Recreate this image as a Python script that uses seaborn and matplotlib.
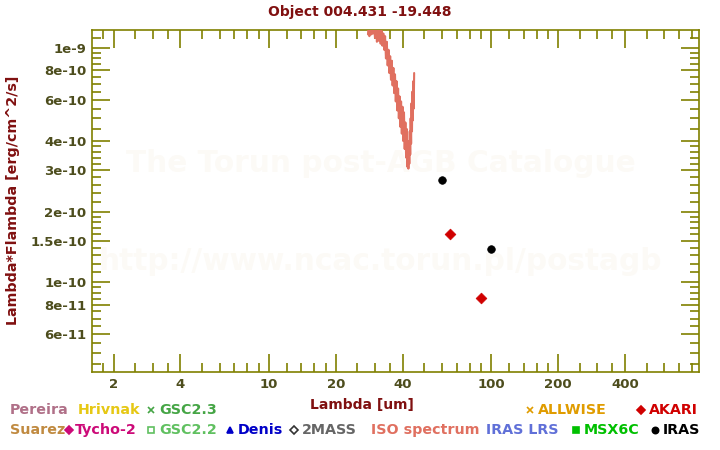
import matplotlib
matplotlib.use("Agg")
import matplotlib.pyplot as plt
from matplotlib.lines import Line2D
from matplotlib.ticker import FixedLocator, NullFormatter
import seaborn as sns
import pandas as pd

# ---------------- data ----------------
iras_lam = [60, 100]
iras_flux = [2.72e-10, 1.38e-10]

akari_lam = [65, 90]
akari_flux = [1.60e-10, 8.6e-11]

iso_lam = [27.9, 28.1, 28.3, 28.6, 28.9, 29.1, 29.4, 29.7, 30.0, 30.3,
           30.6, 30.9, 31.2, 31.5, 31.8, 32.1, 32.4, 32.7, 33.0, 33.3,
           33.6, 33.9, 34.2, 34.5, 34.8, 35.1, 35.4, 35.7, 36.0, 36.3,
           36.6, 36.9, 37.2, 37.5, 37.8, 38.1, 38.4, 38.7, 39.0, 39.3,
           39.6, 39.9, 40.2, 40.5, 40.8, 41.1, 41.4, 41.7, 42.0, 42.2,
           42.4, 42.6, 42.8, 43.0, 43.2, 43.4, 43.6, 43.8, 44.0, 44.2,
           44.4, 44.6, 44.8, 45.0]
iso_flux_e10 = [11.4, 12.6, 11.2, 12.6, 11.4, 12.6, 11.5, 12.6, 11.0, 12.4,
                10.6, 12.1, 10.7, 12.3, 10.4, 11.8, 10.2, 11.5, 9.8, 11.2,
                9.0, 10.6, 8.4, 9.8, 7.8, 9.2, 7.3, 8.8, 6.9, 8.2,
                6.4, 7.7, 5.9, 7.2, 5.4, 6.7, 5.0, 6.2, 4.6, 5.9,
                4.3, 5.6, 4.0, 5.3, 3.7, 4.8, 3.4, 4.5, 3.1, 4.0,
                3.05, 3.9, 3.2, 4.4, 3.5, 5.0, 3.9, 5.8, 4.4, 6.5,
                4.9, 7.2, 5.5, 7.8]

x_major = [2, 4, 10, 20, 40, 100, 200, 400]
x_major_labels = ["2", "4", "10", "20", "40", "100", "200", "400"]
x_minor = [1.8, 2.5, 3, 3.5, 5, 6, 7, 8, 9, 12, 14, 16, 18, 25, 30, 35,
           50, 60, 70, 80, 90, 120, 140, 160, 180, 250, 300, 350,
           500, 600, 700, 800]

y_major = [6e-11, 8e-11, 1e-10, 1.5e-10, 2e-10, 3e-10, 4e-10, 6e-10, 8e-10, 1e-9]
y_major_labels = ["6e-11", "8e-11", "1e-10", "1.5e-10", "2e-10", "3e-10",
                  "4e-10", "6e-10", "8e-10", "1e-9"]
y_minor = [4.5e-11, 5e-11, 5.5e-11, 6.5e-11, 7e-11, 7.5e-11, 8.5e-11, 9e-11, 9.5e-11,
           1.1e-10, 1.2e-10, 1.3e-10, 1.4e-10, 1.6e-10, 1.7e-10, 1.8e-10, 1.9e-10,
           2.2e-10, 2.4e-10, 2.6e-10, 2.8e-10, 3.2e-10, 3.4e-10, 3.6e-10, 3.8e-10,
           4.5e-10, 5e-10, 5.5e-10, 6.5e-10, 7e-10, 7.5e-10, 8.5e-10, 9e-10, 9.5e-10,
           1.1e-9]

legend_row1 = [("Pereira", "#B07088", None, 10),
               ("Hrivnak", "#E6C814", None, 78),
               ("GSC2.3", "#45A545", "x", 151),
               ("ALLWISE", "#E09C00", "x", 530),
               ("AKARI", "#D00000", "D", 641)]
legend_row2 = [("Suarez", "#C08A40", None, 10),
               ("Tycho-2", "#CC0A78", "D", 69),
               ("GSC2.2", "#60C060", "s_open", 151),
               ("Denis", "#0000C8", "^", 230),
               ("2MASS", "#666666", "D_open", 294),
               ("ISO spectrum", "#E07060", None, 371),
               ("IRAS LRS", "#6070D8", None, 486),
               ("MSX6C", "#00C000", "s", 576),
               ("IRAS", "#000000", "o", 655)]

# ---------------- figure ----------------
sns.set_style("white")
plt.rcParams["font.family"] = ["DejaVu Sans"]
plt.rcParams["font.weight"] = "bold"

W, H = 720, 450
fig = plt.figure(figsize=(7.2, 4.5), dpi=100)
ax = fig.add_axes([92 / W, 1 - 372 / H, (699 - 92) / W, (372 - 30) / H])
ax.set_xscale("log")
ax.set_yscale("log")
ax.set_xlim(1.6, 860)
ax.set_ylim(4.14e-11, 1.19e-9)

olive = "#808000"
ticklab = "#4D4D1D"
dred = "#801010"

# watermark
ax.text(0.475, 1 - (163 - 30) / 342, "The Torun post-AGB Catalogue", transform=ax.transAxes,
        ha="center", va="center", fontsize=21.3, fontweight="bold", color="#FCFAF6", zorder=0)
ax.text(0.475, 1 - (262 - 30) / 342, "http://www.ncac.torun.pl/postagb", transform=ax.transAxes,
        ha="center", va="center", fontsize=21.3, fontweight="bold", color="#FCFAF6", zorder=0)

iso_df = pd.DataFrame({"lam": iso_lam, "flux": [v * 1e-10 for v in iso_flux_e10]})
sns.lineplot(data=iso_df, x="lam", y="flux", sort=False, color="#E07060", lw=1.5, ax=ax,
             estimator=None, zorder=3)

sns.scatterplot(x=akari_lam, y=akari_flux, marker="D", s=30, color="#D00000",
                edgecolor="#D00000", linewidth=0.5, ax=ax, zorder=4)
sns.scatterplot(x=iras_lam, y=iras_flux, marker="o", s=30, color="#000000",
                edgecolor="#000000", linewidth=0.5, ax=ax, zorder=4)

for s in ax.spines.values():
    s.set_color(olive)
    s.set_linewidth(1.2)

ax.xaxis.set_major_locator(FixedLocator(x_major))
ax.set_xticklabels(x_major_labels)
ax.xaxis.set_minor_locator(FixedLocator(x_minor))
ax.xaxis.set_minor_formatter(NullFormatter())
ax.yaxis.set_major_locator(FixedLocator(y_major))
ax.set_yticklabels(y_major_labels)
ax.yaxis.set_minor_locator(FixedLocator(y_minor))
ax.yaxis.set_minor_formatter(NullFormatter())

ax.tick_params(which="both", direction="in", top=True, right=True, bottom=True, left=True,
               color=olive, width=1.2)
ax.tick_params(which="major", length=13, pad=4, labelsize=9.5, labelcolor=ticklab)
ax.tick_params(which="minor", length=6.5)
for lab in ax.get_xticklabels() + ax.get_yticklabels():
    lab.set_fontweight("bold")

ax.set_xlabel("")
ax.set_ylabel("")

fig.text(0.5, 1 - 12 / H, "Object 004.431 -19.448", ha="center", va="center",
         fontsize=10, fontweight="bold", color=dred)
fig.text(362 / W, 1 - 405 / H, "Lambda [um]", ha="center", va="center",
         fontsize=10, fontweight="bold", color=dred)
fig.text(13 / W, 1 - 200 / H, "Lambda*Flambda [erg/cm^2/s]", ha="center", va="center",
         rotation=90, fontsize=10.3, fontweight="bold", color=dred)


def legend_item(label, color, marker, x, y):
    tx = x
    if marker is not None:
        mk = marker.replace("_open", "")
        face = "none" if marker.endswith("_open") else color
        ms = {"x": 5, "D": 4.5, "s": 4.5, "^": 5, "o": 4.5}[mk]
        ec = "#333333" if label == "2MASS" else color
        fig.add_artist(Line2D([x / W], [1 - y / H], marker=mk, ms=ms, mfc=face, mec=ec,
                              mew=1.2, ls="none", transform=fig.transFigure))
        tx = x + 8 if label != "Tycho-2" else x + 6
    fig.text(tx / W, 1 - y / H, label, ha="left", va="center", fontsize=10.3,
             fontweight="bold", color=color)


for lab, col, mk, x in legend_row1:
    legend_item(lab, col, mk, x, 410)
for lab, col, mk, x in legend_row2:
    legend_item(lab, col, mk, x, 430)

fig.savefig("out.png", dpi=100, facecolor="white")
